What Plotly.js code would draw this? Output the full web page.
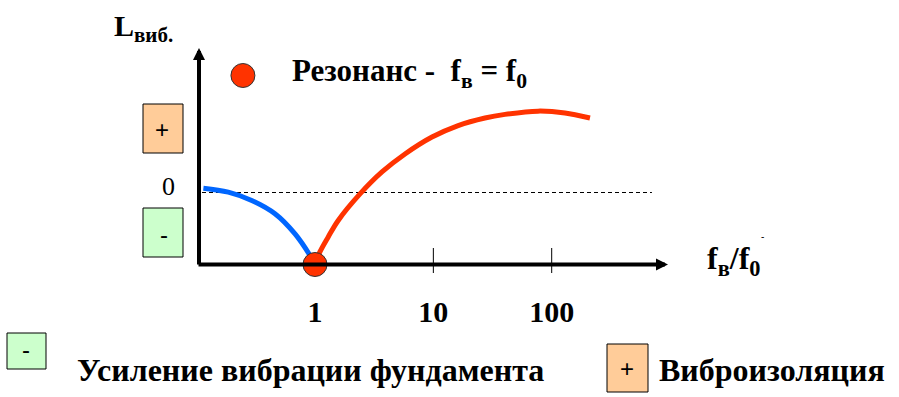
<!DOCTYPE html>
<html>
<head>
<meta charset="utf-8">
<script src="https://cdn.plot.ly/plotly-3.0.1.min.js"></script>
<style>html,body{margin:0;padding:0;background:#fff;}#chart{width:899px;height:397px;}</style>
</head>
<body>
<div id="chart"></div>
<script>
// ---- data ----
const tickValues = [1, 10, 100];
const tickLabels = ['1', '10', '100'];
// blue branch: amplification of foundation vibration (f_в/f_0 < 1)
const blueRatio = [0.114, 0.185, 0.292, 0.459, 0.678, 0.908, 1];
const blueLevel = [1.2, 0.1, -2.2, -5.9, -11.5, -17.5, -20];
// red branch: vibration isolation (f_в/f_0 > 1)
const redRatio = [1, 1.10, 1.29, 1.56, 2.40, 3.68, 5.76, 9.74, 16.2, 27.3, 40.3, 76.6, 129.5, 210.6];
const redLevel = [-20, -16.5, -12.4, -7.9, -0.4, 5.7, 10.7, 15.4, 18.6, 20.7, 21.7, 22.6, 22.1, 20.7];
// resonance point and legend marker
const resonanceRatio = [1];
const resonanceLevel = [-20];
const legendDotRatio = [0.246];
const legendDotLevel = [32.5];
// zero reference line
const zeroRatio = [0.111, 703];
const zeroLevel = [0, 0];
const minorTickRatio = [10, 100];

// ---- geometry ----
const W = 899, H = 397;
const PL = 190, PR = 680, PT = 40, PB = 290;
const X1PX = 315, PX_DEC = 118.35, ZERO_PY = 192.5, PX_UNIT = 3.6;
const xr = [(PL - X1PX) / PX_DEC, (PR - X1PX) / PX_DEC];
const yr = [(ZERO_PY - PB) / PX_UNIT, (ZERO_PY - PT) / PX_UNIT];
const xp = px => (px - PL) / (PR - PL);
const yp = py => (PB - py) / (PB - PT);
const lvl = py => (ZERO_PY - py) / PX_UNIT;
const logx = px => (px - X1PX) / PX_DEC;
const AXIS_LEVEL = -20;

const serif = '"Liberation Serif", "Times New Roman", serif';
const sans = '"Liberation Sans", Arial, sans-serif';
const RED = '#FF3300', BLUE = '#0066FF';

const traces = [];
traces.push({x: zeroRatio, y: zeroLevel, mode: 'lines', line: {color: '#000', width: 1, dash: '4px,3px'}, hoverinfo: 'skip'});
minorTickRatio.forEach(t => traces.push({x: [t, t], y: [lvl(248), lvl(273)], mode: 'lines', line: {color: '#000', width: 1}, hoverinfo: 'skip'}));
traces.push({x: blueRatio, y: blueLevel, mode: 'lines', line: {color: BLUE, width: 5, shape: 'spline', smoothing: 1}});
traces.push({x: redRatio, y: redLevel, mode: 'lines', line: {color: RED, width: 5, shape: 'spline', smoothing: 0.9}});
traces.push({x: resonanceRatio, y: resonanceLevel, mode: 'markers', cliponaxis: false,
  marker: {size: 24, color: RED, line: {color: '#333', width: 1}}});
traces.push({x: legendDotRatio, y: legendDotLevel, mode: 'markers', cliponaxis: false,
  marker: {size: 24, color: RED, line: {color: '#333', width: 1}}});

const box = (x0, y0, x1, y1, fill) => ({type: 'rect', xref: 'paper', yref: 'paper',
  x0: xp(x0), x1: xp(x1), y0: yp(y1), y1: yp(y0), fillcolor: fill, line: {color: '#000', width: 1}, layer: 'above'});
const shapes = [
  box(143, 104, 183, 153, '#FFCC99'),
  box(143, 208, 183, 257, '#CCFFCC'),
  box(7, 333, 46, 369, '#CCFFCC'),
  box(607, 344, 648, 392, '#FFCC99')
];

const txt = (px, py, text, size, opts = {}) => Object.assign({
  xref: 'paper', yref: 'paper', x: xp(px), y: yp(py), text: text, showarrow: false,
  xanchor: 'center', yanchor: 'middle', font: {family: serif, size: size, color: '#000'}
}, opts);
const sansFont = size => ({font: {family: sans, size: size, color: '#000'}});

const annotations = [
  // axis arrows
  {xref: 'x', yref: 'y', x: logx(668), y: AXIS_LEVEL, ax: -(668 - 197), ay: 0, axref: 'pixel', ayref: 'pixel',
   text: '', showarrow: true, arrowhead: 2, arrowsize: 0.6, arrowwidth: 4, arrowcolor: '#000', standoff: 0},
  {xref: 'x', yref: 'y', x: logx(199), y: lvl(48), ax: 0, ay: 266 - 48, axref: 'pixel', ayref: 'pixel',
   text: '', showarrow: true, arrowhead: 2, arrowsize: 0.6, arrowwidth: 4, arrowcolor: '#000', standoff: 0},
  txt(143, 28, '<b>L<sub>виб.</sub></b>', 30),
  txt(290, 73, '<b>Резонанс -\u00a0 f<sub>в</sub> = f<sub>0</sub></b>', 31, {xanchor: 'left'}),
  txt(705, 260, '<b>f<sub>в</sub>/f<sub>0</sub></b>', 32, {xanchor: 'left'}),
  txt(762, 236, '-', 10, sansFont(10)),
  txt(168, 186, '0', 26),
  txt(162, 129, '+', 24, sansFont(24)),
  txt(164, 234, '-', 24, sansFont(24)),
  txt(26, 349, '-', 24, sansFont(24)),
  txt(627, 368, '+', 24, sansFont(24)),
  txt(75, 370, '<b>Усиление вибрации фундамента</b>', 32, {xanchor: 'left'}),
  txt(657, 370, '<b>Виброизоляция</b>', 32, {xanchor: 'left'})
];

const layout = {
  width: W, height: H,
  margin: {l: PL, r: W - PR, t: PT, b: H - PB, pad: 0},
  paper_bgcolor: '#fff', plot_bgcolor: 'rgba(0,0,0,0)',
  showlegend: false,
  xaxis: {type: 'log', range: xr, showgrid: false, zeroline: false, showline: false,
    tickvals: tickValues, ticktext: tickLabels, ticks: '', ticklabelstandoff: 1,
    tickfont: {family: serif, size: 30, color: '#000', weight: 'bold'}, fixedrange: true},
  yaxis: {range: yr, visible: false, fixedrange: true},
  shapes: shapes,
  annotations: annotations
};

Plotly.newPlot('chart', traces, layout, {displayModeBar: false, staticPlot: true});
</script>
</body>
</html>
